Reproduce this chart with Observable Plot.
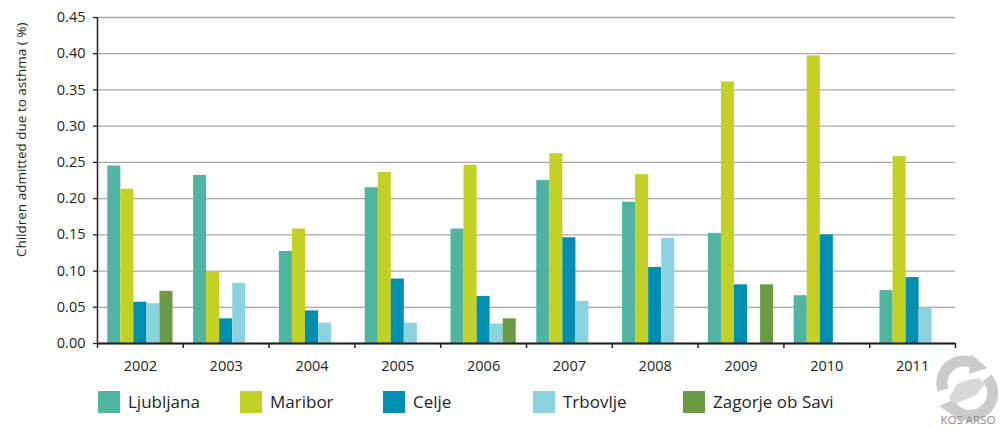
<!DOCTYPE html>
<html>
<head>
<meta charset="utf-8">
<script src="https://cdn.jsdelivr.net/npm/d3@7"></script>
<script src="https://cdn.jsdelivr.net/npm/@observablehq/plot@0.6"></script>
<style>
  html, body { margin: 0; padding: 0; background: #fff; }
  body { width: 1005px; height: 430px; overflow: hidden; font-family: "Open Sans", sans-serif; color: #231f20; position: relative; }
  #legend { position: relative; height: 52px; }
  .item { position: absolute; top: 12px; display: flex; align-items: center; font-size: 17px; }
  .sw { width: 22px; height: 22px; margin-right: 8px; }
  #logo { position: absolute; left: 923px; top: 348px; width: 80px; height: 82px; }
</style>
</head>
<body>
<div id="chart"></div>
<div id="legend"></div>
<div id="logo">
  <svg width="80" height="82" viewBox="0 0 80 82">
    <g fill="none" stroke="#cbcbcb" stroke-width="11">
      <path d="M 20 42 A 22 22 0 0 1 52 16"/>
      <path d="M 64 30 A 22 22 0 0 1 30 60"/>
    </g>
    <g fill="#cbcbcb">
      <polygon points="48,6 64,20 46,26"/>
      <polygon points="34,70 16,58 34,50"/>
      <path d="M 26 50 L 34 36 L 46 32 L 56 30 L 62 36 L 54 46 L 42 52 L 30 56 Z" fill="#d8d8d8"/>
    </g>
    <text x="45" y="76" text-anchor="middle" font-family="Open Sans" font-size="11.5" fill="#8a8a8a">KOS ARSO</text>
  </svg>
</div>
<script>
// ---- data ----
const years = [2002, 2003, 2004, 2005, 2006, 2007, 2008, 2009, 2010, 2011];
const cities = ["Ljubljana", "Maribor", "Celje", "Trbovlje", "Zagorje ob Savi"];
const ljubljana = [0.245, 0.232, 0.127, 0.215, 0.158, 0.225, 0.195, 0.152, 0.066, 0.073];
const maribor   = [0.213, 0.099, 0.158, 0.236, 0.246, 0.262, 0.233, 0.361, 0.397, 0.258];
const celje     = [0.057, 0.034, 0.045, 0.089, 0.065, 0.146, 0.105, 0.081, 0.150, 0.091];
const trbovlje  = [0.055, 0.083, 0.028, 0.028, 0.027, 0.058, 0.145, null, null, 0.049];
const zagorje   = [0.072, null, null, null, 0.034, null, null, 0.081, null, null];
const yTicks = [0, 0.05, 0.10, 0.15, 0.20, 0.25, 0.30, 0.35, 0.40, 0.45];
const colors = ["#4fb4a0", "#c3d024", "#008fb0", "#8bd3de", "#6a9a42"];

const series = [ljubljana, maribor, celje, trbovlje, zagorje];
const rows = [];
series.forEach((vals, ci) => {
  vals.forEach((v, yi) => {
    if (v != null) rows.push({year: years[yi], city: cities[ci], ci, value: v});
  });
});

// layout within a year slot (fractions of one year)
const barW = 0.152;
const groupPad = (1 - barW * cities.length) / 2;
const x0 = years[0] - 0.5, x1 = years[years.length - 1] + 0.5;
const bounds = years.map(y => y - 0.5).concat([x1]);

const chart = Plot.plot({
  width: 1005,
  height: 378,
  marginLeft: 97,
  marginRight: 50,
  marginTop: 17,
  marginBottom: 35,
  style: {fontFamily: "Open Sans", fontSize: "14.5px", color: "#231f20", background: "white"},
  x: {type: "linear", domain: [x0, x1]},
  y: {domain: [0, 0.45]},
  color: {domain: cities, range: colors},
  marks: [
    Plot.gridY(yTicks, {stroke: "#a8a8a8", strokeOpacity: 1, strokeWidth: 1.3}),
    Plot.rectY(rows, {
      x1: d => d.year - 0.5 + groupPad + d.ci * barW,
      x2: d => d.year - 0.5 + groupPad + (d.ci + 1) * barW,
      y: "value",
      fill: "city"
    }),
    Plot.ruleX([x0], {stroke: "#231f20", strokeWidth: 1.5}),
    Plot.ruleY([0], {stroke: "#231f20", strokeWidth: 2}),
    Plot.axisY(yTicks, {tickFormat: d3.format(".2f"), tickSize: 4, tickPadding: 8, label: null, fontSize: 14.5, strokeWidth: 1.3}),
    Plot.axisX(bounds, {tickSize: 5, tickFormat: () => "", label: null, strokeWidth: 1.5}),
    Plot.axisX(years, {tickSize: 0, tickPadding: 17, tickFormat: d => String(d), label: null, fontSize: 14.5}),
    Plot.text(["Children admitted due to asthma ( %)"], {
      frameAnchor: "top-left", rotate: -90, textAnchor: "end", lineAnchor: "middle",
      dx: -76, dy: 5, fontSize: 13.5, fill: "#231f20"
    })
  ]
});
document.getElementById("chart").appendChild(chart);

// legend
const legendLeft = [98, 240, 383, 533, 683];
const legend = document.getElementById("legend");
cities.forEach((c, i) => {
  const it = document.createElement("div");
  it.className = "item";
  it.style.left = legendLeft[i] + "px";
  it.innerHTML = `<span class="sw" style="background:${colors[i]}"></span><span>${c}</span>`;
  legend.appendChild(it);
});
</script>
</body>
</html>
